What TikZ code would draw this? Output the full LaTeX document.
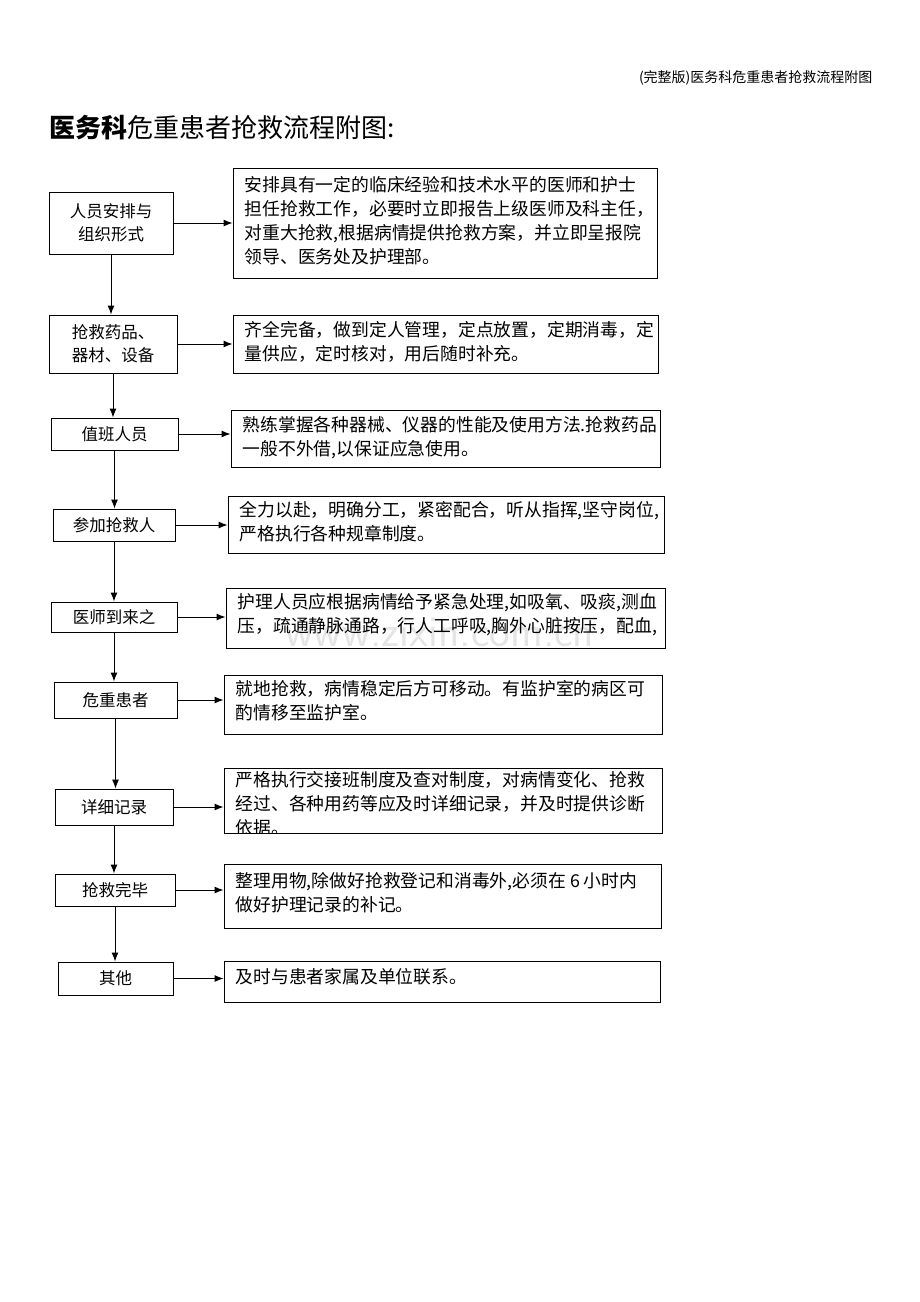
\documentclass[tikz,border=0pt]{standalone}
\usepackage{fontspec}
\setmainfont{Liberation Serif}
\newfontfamily\cjk{Noto Sans CJK SC}
\usetikzlibrary{arrows.meta,calc}
\begin{document}
\begin{tikzpicture}[x=1pt,y=-1pt,
  bx/.style={draw,line width=0.9pt,inner sep=0pt},
  lt/.style={font=\cjk\fontsize{16.5}{23}\selectfont,align=center},
  rt/.style={anchor=north west,inner sep=0pt,align=left,font=\cjk\fontsize{17.8}{24}\selectfont},
  arr/.style={line width=1pt,-{Latex[length=9pt,width=7pt]}}]
\useasboundingbox (0,0) rectangle (920,1302);
\node[anchor=north east,font=\cjk\fontsize{14}{16}\selectfont] (hd) at (876,67) {(完整版)医务科危重患者抢救流程附图};
\node[anchor=west,font=\cjk\fontsize{26}{28}\selectfont] (tt) at (46,128) {\textbf{医务科}危重患者抢救流程附图:};
\node[font=\fontsize{44}{44}\selectfont\sffamily,text=black!10] (wm) at (440,632) {www.zixin.com.cn};
% left boxes
\node[bx,lt,minimum width=124pt,minimum height=62pt] (l1) at (111,223) {人员安排与\\组织形式};
\node[bx,lt,minimum width=128pt,minimum height=58pt] (l2) at (113,344) {抢救药品、\\器材、设备};
\node[bx,lt,minimum width=127pt,minimum height=32pt] (l3) at (114.5,434) {值班人员};
\node[bx,lt,minimum width=122pt,minimum height=32pt] (l4) at (114,525) {参加抢救人};
\node[bx,lt,minimum width=126pt,minimum height=30pt] (l5) at (114,617) {医师到来之};
\node[bx,lt,minimum width=123pt,minimum height=36pt] (l6) at (115.5,700) {危重患者};
\node[bx,lt,minimum width=118pt,minimum height=36pt] (l7) at (114,807) {详细记录};
\node[bx,lt,minimum width=120pt,minimum height=32pt] (l8) at (115,890) {抢救完毕};
\node[bx,lt,minimum width=115pt,minimum height=33pt] (l9) at (115.5,978.5) {其他};
% right boxes
\node[bx,minimum width=424pt,minimum height=110pt] (r1) at (445,223) {};
\node[bx,minimum width=425pt,minimum height=58pt] (r2) at (445.5,344) {};
\node[bx,minimum width=429pt,minimum height=57pt] (r3) at (445.5,438.5) {};
\node[bx,minimum width=436pt,minimum height=57pt] (r4) at (446,524.5) {};
\node[bx,minimum width=439pt,minimum height=60pt] (r5) at (445.5,618) {};
\node[bx,minimum width=438pt,minimum height=59pt] (r6) at (443,704.5) {};
\node[bx,minimum width=438pt,minimum height=65pt] (r7) at (443,800.5) {};
\node[bx,minimum width=437pt,minimum height=64pt] (r8) at (442.5,896) {};
\node[bx,minimum width=436pt,minimum height=41pt] (r9) at (442,981.5) {};
\newcommand{\rtext}[3]{\begin{scope}\clip (#1.north west) rectangle (#1.south east);
  \node[rt] (#1t) at ($(#1.north west)+(12,#2)$) {#3};\end{scope}}
\rtext{r1}{9}{安排具有一定的临床经验和技术水平的医师和护士\\担任抢救工作，必要时立即报告上级医师及科主任，\\对重大抢救,根据病情提供抢救方案，并立即呈报院\\领导、医务处及护理部。}
\rtext{r2}{7}{齐全完备，做到定人管理，定点放置，定期消毒，定\\量供应，定时核对，用后随时补充。}
\rtext{r3}{7}{熟练掌握各种器械、仪器的性能及使用方法.抢救药品\\一般不外借,以保证应急使用。}
\rtext{r4}{6}{全力以赴，明确分工，紧密配合，听从指挥,坚守岗位,\\严格执行各种规章制度。}
\rtext{r5}{6}{护理人员应根据病情给予紧急处理,如吸氧、吸痰,测血\\压，疏通静脉通路，行人工呼吸,胸外心脏按压，配血,}
\rtext{r6}{6}{就地抢救，病情稳定后方可移动。有监护室的病区可\\酌情移至监护室。}
\rtext{r7}{4}{严格执行交接班制度及查对制度，对病情变化、抢救\\经过、各种用药等应及时详细记录，并及时提供诊断\\依据。}
\rtext{r8}{9}{整理用物,除做好抢救登记和消毒外,必须在 6 小时内\\做好护理记录的补记。}
\rtext{r9}{8}{及时与患者家属及单位联系。}
% arrows
\foreach \i in {1,...,9}{\draw[arr] (l\i.east) -- (l\i.east -| r\i.west);}
\foreach \i/\j in {1/2,2/3,3/4,4/5,5/6,6/7,7/8,8/9}{\draw[arr] (l\i.south) -- (l\i.south |- l\j.north);}
\end{tikzpicture}
\end{document}
